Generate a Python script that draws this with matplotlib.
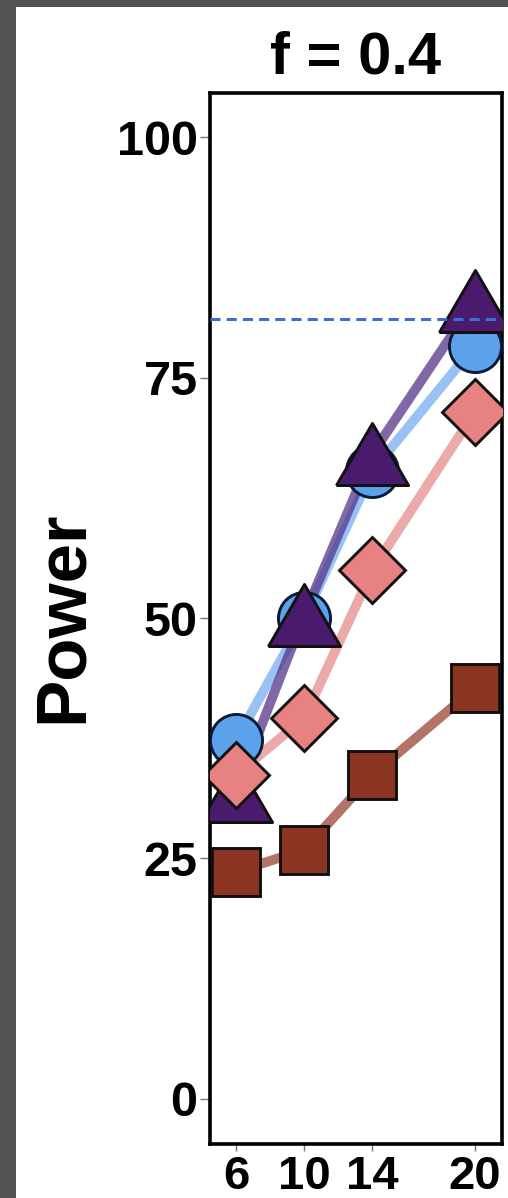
import matplotlib
matplotlib.use("Agg")
import matplotlib.pyplot as plt
from matplotlib.patches import Rectangle

# ---- data ----
sample_sizes = [6, 10, 14, 20]
series_circle = [37.3, 50.0, 65.3, 78.3]
series_triangle = [32.0, 50.3, 67.1, 83.0]
series_diamond = [33.7, 39.6, 55.0, 71.4]
series_square = [23.6, 25.9, 33.7, 42.7]
threshold = 81.1
y_ticks = [0, 25, 50, 75, 100]
title_text = "f = 0.4"
ylabel_text = "Power"

plt.rcParams['font.family'] = ['Liberation Sans', 'DejaVu Sans']
plt.rcParams['font.weight'] = 'bold'

W, H = 508, 1198
fig = plt.figure(figsize=(W / 100, H / 100), dpi=100, facecolor='#545454')
# white panel
fig.patches.append(Rectangle((16 / W, 0), 1 - 16 / W, 1 - 7 / H,
                             transform=fig.transFigure, facecolor='white',
                             edgecolor='none', zorder=-10))

ax_l, ax_r, ax_t, ax_b = 210, 502, 93, 1144
ax = fig.add_axes([ax_l / W, 1 - ax_b / H, (ax_r - ax_l) / W, (ax_b - ax_t) / H])
ax.set_facecolor('white')

tri = [(-1, -0.86), (1, -0.86), (0, 0.86), (-1, -0.86)]

# lines
ax.plot(sample_sizes, series_square, color='#9a4434', lw=7, alpha=0.75, solid_capstyle='round', zorder=2)
ax.plot(sample_sizes, series_diamond, color='#e89a9a', lw=7, alpha=0.85, solid_capstyle='round', zorder=2)
ax.plot(sample_sizes, series_circle, color='#8dbcf2', lw=7, alpha=0.9, solid_capstyle='round', zorder=2)
ax.plot(sample_sizes, series_triangle, color='#55358a', lw=7, alpha=0.75, solid_capstyle='round', zorder=2)

# markers
ax.plot(sample_sizes, series_square, ls='none', marker='s', ms=34.5, mfc='#8b3522',
        mec='#111111', mew=2.1, zorder=3)
ax.plot(sample_sizes, series_circle, ls='none', marker='o', ms=37.5, mfc='#5ca2ea',
        mec='#0b1a3a', mew=2.1, zorder=4)
ax.plot(sample_sizes, series_triangle, ls='none', marker=tri, ms=52, mfc='#4a1a6c',
        mec='#111111', mew=2.1, zorder=5)
ax.plot(sample_sizes, series_diamond, ls='none', marker='D', ms=34, mfc='#e88282',
        mec='#111111', mew=2.1, zorder=6)

ax.axhline(threshold, color='#3b6fd4', lw=2.2, ls=(0, (3.3, 2)), zorder=7)

ax.set_xlim(4.47, 21.6)
ax.set_ylim(-4.7, 104.6)
ax.set_xticks(sample_sizes)
ax.set_xticklabels([str(v) for v in sample_sizes])
ax.set_yticks(y_ticks)
ax.set_yticklabels([str(v) for v in y_ticks])

for s in ax.spines.values():
    s.set_linewidth(2.6)
    s.set_color('black')
ax.tick_params(axis='y', length=7, width=1, color='#777777', pad=2, labelsize=35)
ax.tick_params(axis='x', length=5, width=1, color='#777777', pad=3, labelsize=34)
for lab in ax.get_xticklabels() + ax.get_yticklabels():
    lab.set_fontweight('bold')

ax.set_title(title_text, fontsize=43, fontweight='bold', pad=14)
fig.text(64 / W, 1 - 617 / H, ylabel_text, rotation=90, ha='center', va='center',
         fontsize=51, fontweight='bold')

fig.savefig('out.png', dpi=100, facecolor=fig.get_facecolor())
